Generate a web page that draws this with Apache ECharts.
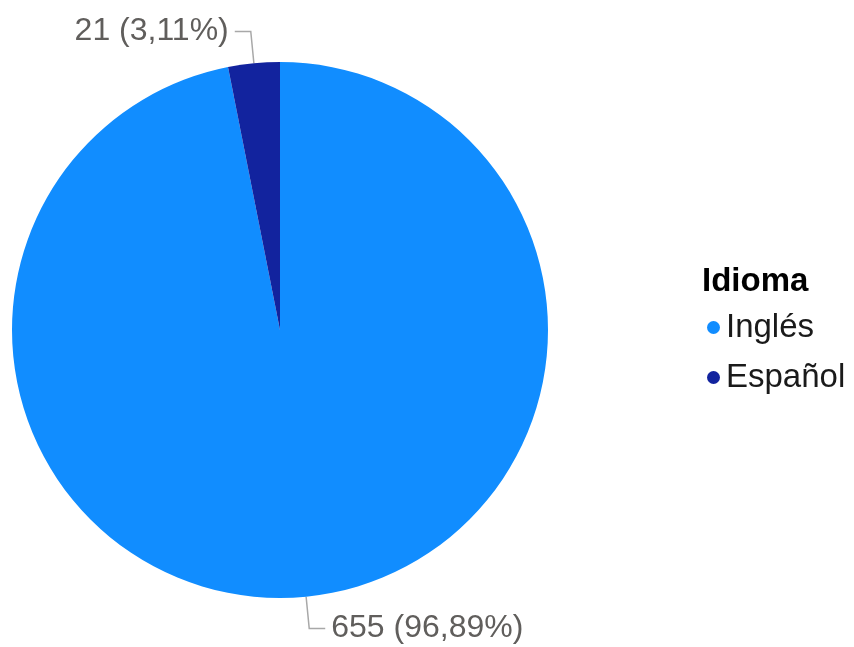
<!DOCTYPE html>
<html>
<head>
<meta charset="utf-8">
<script src="https://cdn.jsdelivr.net/npm/echarts@6/dist/echarts.min.js"></script>
<style>
html,body{margin:0;padding:0;background:#fff;}
#chart{width:854px;height:647px;}
</style>
</head>
<body>
<div id="chart"></div>
<script>
const categories = ["Inglés", "Español"];
const values = [655, 21];
const colors = ["#118DFF", "#12239E"];
const legendTitle = "Idioma";

const total = values.reduce((a, b) => a + b, 0);
function fmtPct(v) {
  return (v / total * 100).toFixed(2).replace('.', ',') + '%';
}

const chart = echarts.init(document.getElementById('chart'));
chart.setOption({
  animation: false,
  title: {
    text: legendTitle,
    left: 697,
    top: 260,
    textStyle: { fontFamily: 'Liberation Sans, Arial, sans-serif', fontSize: 33, fontWeight: 'bold', color: '#000' }
  },
  legend: {
    orient: 'vertical',
    left: 702,
    top: 306,
    icon: 'circle',
    itemWidth: 13,
    itemHeight: 13,
    itemGap: 17,
    data: categories,
    textStyle: { fontFamily: 'Liberation Sans, Arial, sans-serif', fontSize: 33, color: '#1a1a1a', padding: [0, 0, 0, 1] }
  },
  series: [{
    type: 'pie',
    center: [280, 330],
    radius: 268,
    startAngle: 90,
    clockwise: true,
    avoidLabelOverlap: false,
    data: categories.map((c, i) => ({
      name: c,
      value: values[i],
      itemStyle: { color: colors[i] }
    })),
    label: {
      show: true,
      formatter: p => p.value + ' (' + fmtPct(p.value) + ')',
      fontFamily: 'Liberation Sans, Arial, sans-serif',
      fontSize: 32,
      color: '#605E5C',
      distanceToLabelLine: 6
    },
    labelLine: {
      show: true,
      length: 32,
      length2: 16,
      lineStyle: { color: '#a8a8a8', width: 1.5 }
    },
    emphasis: { disabled: true }
  }]
});
</script>
</body>
</html>
